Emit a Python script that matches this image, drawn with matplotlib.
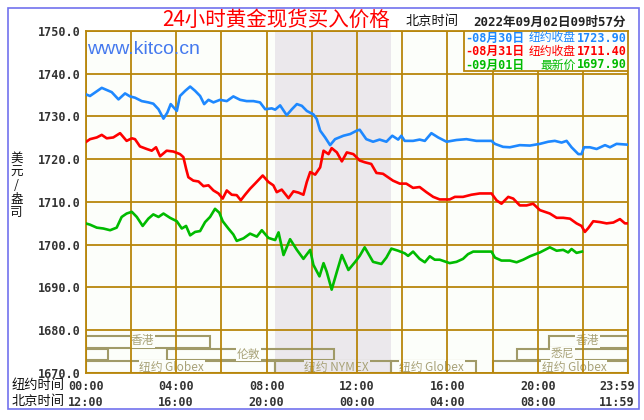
import matplotlib
matplotlib.use('Agg')
import matplotlib.pyplot as plt
from matplotlib.patches import Rectangle

# New York time in hours (0-24) and price readings for each day
blue_hours = [0, 0.19, 0.41, 0.71, 0.93, 1.15, 1.45, 1.74, 1.96, 2.18, 2.48, 2.77, 2.99, 3.22,
              3.44, 3.61, 3.76, 4.03, 4.17, 4.40, 4.62, 4.84, 5.06, 5.24, 5.43, 5.65, 5.94,
              6.24, 6.53, 6.83, 7.12, 7.42, 7.71, 7.94, 8.23, 8.38, 8.60, 8.89, 9.12, 9.34,
              9.56, 9.78, 10.07, 10.22, 10.37, 10.59, 10.81, 11.03, 11.40, 11.70, 11.99,
              12.12, 12.41, 12.71, 13.00, 13.30, 13.56, 13.82, 13.96, 14.11, 14.48, 14.77,
              15.00, 15.29, 15.59, 15.96, 16.40, 16.84, 17.28, 17.95, 18.10, 18.46, 18.76,
              19.20, 19.65, 20.09, 20.46, 20.75, 21.05, 21.27, 21.49, 21.79, 21.93, 22.04,
              22.30, 22.60, 22.97, 23.19, 23.48, 24.0]
blue_prices = [1735.2, 1734.8, 1735.6, 1736.7, 1736.2, 1735.7, 1734.0, 1735.4, 1734.7, 1734.4,
               1733.6, 1733.3, 1733.0, 1731.7, 1729.5, 1730.9, 1732.9, 1731.3, 1734.8, 1736.0,
               1737.0, 1736.0, 1734.8, 1732.9, 1733.9, 1733.3, 1733.9, 1733.6, 1734.7, 1733.9,
               1733.6, 1733.6, 1733.3, 1731.7, 1731.9, 1731.6, 1732.6, 1730.3, 1731.7, 1732.9,
               1732.5, 1731.3, 1730.5, 1729.4, 1726.7, 1725.1, 1723.3, 1724.7, 1725.5, 1725.9,
               1726.7, 1726.9, 1724.7, 1724.1, 1724.6, 1724.1, 1725.5, 1724.6, 1725.5, 1724.3,
               1724.3, 1724.6, 1724.3, 1726.1, 1725.1, 1724.1, 1724.5, 1724.7, 1724.3, 1724.3,
               1723.6, 1722.9, 1722.8, 1723.3, 1723.2, 1723.6, 1724.1, 1724.3, 1723.9, 1724.3,
               1722.8, 1721.2, 1721.2, 1722.8, 1722.8, 1722.4, 1723.3, 1722.8, 1723.6, 1723.4]

red_hours = [0, 0.19, 0.49, 0.71, 0.93, 1.22, 1.52, 1.81, 2.04, 2.18, 2.40, 2.70, 2.92, 3.11,
             3.29, 3.58, 3.88, 4.17, 4.32, 4.44, 4.54, 4.76, 4.99, 5.21, 5.43, 5.65, 5.87,
             6.06, 6.24, 6.46, 6.68, 6.86, 7.05, 7.27, 7.49, 7.83, 8.08, 8.30, 8.45, 8.67,
             8.97, 9.19, 9.41, 9.63, 9.78, 9.93, 10.15, 10.37, 10.52, 10.74, 10.88, 11.11,
             11.33, 11.55, 11.84, 12.12, 12.34, 12.63, 12.86, 13.15, 13.37, 13.59, 13.89,
             14.18, 14.48, 14.77, 15.07, 15.37, 15.66, 16.10, 16.33, 16.69, 17.06, 17.43,
             17.95, 18.17, 18.39, 18.69, 18.91, 19.20, 19.50, 19.79, 20.09, 20.31, 20.53,
             20.83, 21.12, 21.42, 21.71, 21.93, 22.08, 22.23, 22.45, 22.75, 23.04, 23.34,
             23.63, 23.85, 24.0]
red_prices = [1724.0, 1724.7, 1725.1, 1725.7, 1724.9, 1725.1, 1726.1, 1724.3, 1724.9, 1724.7,
              1723.0, 1722.4, 1722.0, 1722.8, 1720.7, 1722.0, 1721.8, 1721.2, 1720.5, 1717.8,
              1715.8, 1715.0, 1714.8, 1713.7, 1713.9, 1712.7, 1712.0, 1710.8, 1712.7, 1711.7,
              1711.6, 1710.4, 1711.7, 1713.1, 1714.3, 1716.2, 1714.7, 1713.9, 1712.3, 1712.9,
              1710.9, 1712.5, 1712.2, 1711.7, 1714.7, 1717.0, 1716.4, 1718.1, 1722.0, 1721.2,
              1722.6, 1721.6, 1719.5, 1721.6, 1721.2, 1719.7, 1719.3, 1718.9, 1716.8, 1716.6,
              1715.8, 1715.0, 1714.3, 1714.3, 1713.3, 1713.5, 1712.3, 1711.2, 1710.6, 1710.6,
              1711.2, 1711.2, 1711.7, 1712.0, 1712.0, 1710.4, 1709.6, 1711.2, 1710.8, 1709.2,
              1709.2, 1709.6, 1708.1, 1707.7, 1707.3, 1706.3, 1706.3, 1706.1, 1705.0, 1704.4,
              1703.0, 1703.9, 1705.5, 1705.3, 1705.0, 1705.2, 1706.0, 1705.0, 1705.0]

green_hours = [0, 0.19, 0.49, 0.78, 1.08, 1.37, 1.59, 1.81, 2.04, 2.26, 2.52, 2.77, 2.99, 3.22,
               3.44, 3.73, 4.03, 4.25, 4.44, 4.62, 4.84, 5.06, 5.28, 5.50, 5.72, 5.91, 6.06,
               6.31, 6.53, 6.68, 6.98, 7.27, 7.57, 7.79, 8.08, 8.38, 8.53, 8.75, 9.04, 9.34,
               9.63, 9.93, 10.07, 10.34, 10.52, 10.66, 10.88, 11.11, 11.33, 11.62, 11.92,
               12.12, 12.34, 12.71, 13.08, 13.30, 13.52, 13.82, 14.11, 14.26, 14.48, 14.77,
               15.00, 15.22, 15.44, 15.66, 16.10, 16.40, 16.69, 16.91, 17.14, 17.95, 18.10,
               18.39, 18.76, 19.06, 19.35, 19.65, 20.09, 20.31, 20.53, 20.83, 21.12, 21.34,
               21.49, 21.71, 21.95]
green_prices = [1705.0, 1704.7, 1704.0, 1703.8, 1703.4, 1704.0, 1706.5, 1707.3, 1707.7, 1706.5,
                1704.4, 1706.1, 1707.1, 1706.5, 1707.3, 1706.3, 1705.5, 1703.8, 1704.4, 1702.2,
                1703.0, 1703.2, 1705.3, 1706.5, 1708.4, 1707.5, 1705.5, 1703.8, 1702.4, 1700.9,
                1701.5, 1702.6, 1701.9, 1703.4, 1701.6, 1701.1, 1702.9, 1697.6, 1701.3, 1698.8,
                1696.7, 1698.8, 1695.3, 1692.6, 1695.7, 1693.7, 1689.5, 1693.7, 1697.6, 1694.1,
                1696.0, 1697.4, 1699.4, 1696.0, 1695.5, 1697.0, 1699.1, 1698.6, 1698.0, 1697.4,
                1698.4, 1696.7, 1695.9, 1697.3, 1696.5, 1696.5, 1695.7, 1696.0, 1696.7, 1697.8,
                1698.4, 1698.4, 1697.0, 1696.3, 1696.3, 1695.9, 1696.5, 1697.3, 1698.2, 1698.8,
                1699.4, 1698.6, 1698.8, 1698.2, 1699.0, 1698.1, 1698.4]

legend_dates = ['-08月30日', '-08月31日', '-09月01日']
legend_names = ['纽约收盘', '纽约收盘', '最新价']
legend_values = ['1723.90', '1711.40', '1697.90']
series_colors = ['#1e88ff', '#ff0000', '#00bb00']

y_ticks = [1670, 1680, 1690, 1700, 1710, 1720, 1730, 1740, 1750]
x_grid = list(range(0, 25, 2))
label_hours = [0, 4, 8, 12, 16, 20, 23.5]
ny_labels = ['00:00', '04:00', '08:00', '12:00', '16:00', '20:00', '23:59']
bj_labels = ['12:00', '16:00', '20:00', '00:00', '04:00', '08:00', '11:59']

# NYMEX floor hours (shaded)
nymex_start = 8.38
nymex_end = 13.5

# trading sessions: name, start, end, row, label position
session_names = ['香港', '香港', '', '伦敦', '悉尼', '纽约 Globex', '纽约 NYMEX', '纽约 Globex', '纽约 Globex']
session_start = [0, 20.5, 0, 3.6, 19.07, 0, 8.38, 13.5, 18.0]
session_end = [5.5, 24, 1.0, 11.0, 24, 8.38, 13.5, 17.25, 24]
session_row = [0, 0, 1, 1, 1, 2, 2, 2, 2]
session_label_x = [2.5, 22.2, 0.5, 7.2, 21.1, 3.8, 11.1, 15.3, 21.6]
row_bottom = [1675.9, 1673.0, 1670.0]
row_top = [1678.7, 1675.6, 1672.8]
row_text_y = [1677.5, 1674.4, 1671.4]

W, H = 644, 420
BG = '#fcfefa'
GRID = '#b8860b'
SHADE = '#ebe8ec'
SESSION = '#a09a68'
CJK = ['Noto Sans CJK SC', 'DejaVu Sans']
MONO = ['DejaVu Sans Mono', 'Noto Sans CJK SC']


def fx(px):
    return px / W


def fy(py):
    return 1 - py / H


fig = plt.figure(figsize=(W / 100, H / 100), dpi=100)
fig.patch.set_facecolor('white')

# outer frame
fig.patches.append(Rectangle((fx(8), fy(409)), (639 - 8) / W, (409 - 8) / H,
                             transform=fig.transFigure, fill=False,
                             edgecolor='#7272ee', linewidth=1.2))

ax = fig.add_axes([fx(85.7), fy(373), (628.3 - 85.7) / W, (373 - 31) / H])
ax.set_facecolor(BG)
ax.set_xlim(0, 24)
ax.set_ylim(1670, 1750)

ax.axvspan(nymex_start, nymex_end, color=SHADE, zorder=0.5, linewidth=0)

# session boxes
for name, s, e, r, lx in zip(session_names, session_start, session_end, session_row, session_label_x):
    ax.add_patch(Rectangle((s, row_bottom[r]), e - s, row_top[r] - row_bottom[r],
                           fill=False, edgecolor=SESSION, linewidth=1.5, zorder=1))
    if name:
        face = SHADE if nymex_start <= lx <= nymex_end else BG
        ax.text(lx, row_text_y[r], name, ha='center', va='center', fontsize=8.5,
                color='#a8a278', family=CJK, zorder=1.5,
                bbox=dict(facecolor=face, edgecolor='none', pad=0.5))

ax.set_xticks(x_grid)
ax.set_yticks(y_ticks)
ax.set_yticklabels([f'{v:.1f}' for v in y_ticks])
ax.set_axisbelow(False)
ax.grid(True, color=GRID, linewidth=1.3)
ax.tick_params(axis='x', length=0, labelbottom=False)
ax.tick_params(axis='y', length=0, pad=4, labelsize=8.5, labelcolor='#333333')
for lab in ax.get_yticklabels():
    lab.set_fontfamily('DejaVu Sans Mono')
    lab.set_fontweight('bold')
for sp in ax.spines.values():
    sp.set_color(GRID)
    sp.set_linewidth(1.3)

for hrs, prices, c in [(blue_hours, blue_prices, series_colors[0]),
                       (red_hours, red_prices, series_colors[1]),
                       (green_hours, green_prices, series_colors[2])]:
    ax.plot(hrs, prices, color=c, linewidth=1.9, zorder=3)

# legend box in the top right corner
lx0 = (464 - 85.7) / (628.3 - 85.7)
ly0 = (373 - 71) / 342
ax.add_patch(Rectangle((lx0, ly0), 1 - lx0, 1 - ly0, transform=ax.transAxes,
                       facecolor=BG, edgecolor=GRID, linewidth=1.3, zorder=4))
for i, (d, n, v) in enumerate(zip(legend_dates, legend_names, legend_values)):
    yy = fy(38 + i * 13.5)
    fig.text(fx(465), yy, d, ha='left', va='center', fontsize=8.5, family=MONO,
             weight='bold', color=series_colors[i], zorder=5)
    fig.text(fx(576), yy, n, ha='right', va='center', fontsize=8.5, family=CJK,
             color=series_colors[i], zorder=5)
    fig.text(fx(627), yy, v, ha='right', va='center', fontsize=8.5, family=MONO,
             weight='bold', color=series_colors[i], zorder=5)

# header
fig.text(fx(276), fy(20), '24小时黄金现货买入价格', ha='center', va='center',
         fontsize=14.8, color='#ff0000', family=CJK, weight='medium')
fig.text(fx(406), fy(22), '北京时间', ha='left', va='center', fontsize=9.5,
         color='#111111', family=CJK)
fig.text(fx(473), fy(22), '2022年09月02日09时57分', ha='left', va='center',
         fontsize=9, color='#222222', family=MONO, weight='bold')
fig.text(fx(87), fy(49), 'www.kitco.cn', ha='left', va='center', fontsize=14,
         color='#4479ee', family='Liberation Sans', zorder=6)

# y label, one character per line
fig.text(fx(16.5), fy(185.5), '美\n元\n/\n盎\n司', ha='center', va='center',
         fontsize=9, linespacing=1.05, color='#111111', family=CJK)

# time rows under the chart
fig.text(fx(12), fy(386), '纽约时间', ha='left', va='center', fontsize=9.5,
         color='#111111', family=CJK)
fig.text(fx(12), fy(402), '北京时间', ha='left', va='center', fontsize=9.5,
         color='#111111', family=CJK)
trans = ax.get_xaxis_transform()
for h, ny, bj in zip(label_hours, ny_labels, bj_labels):
    ax.text(h, -13 / 342, ny, transform=trans, ha='center', va='center', fontsize=8.5,
            family='DejaVu Sans Mono', weight='bold', color='#333333', clip_on=False)
    ax.text(h, -29 / 342, bj, transform=trans, ha='center', va='center', fontsize=8.5,
            family='DejaVu Sans Mono', weight='bold', color='#333333', clip_on=False)

fig.savefig('out.png', dpi=100, facecolor='white')
